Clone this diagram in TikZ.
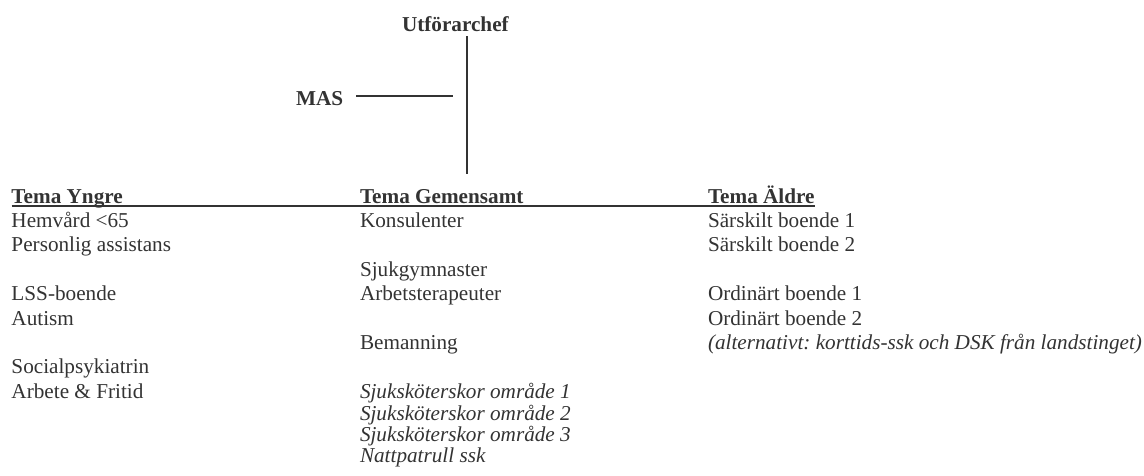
\documentclass[tikz,border=0pt]{standalone}
\usepackage{fontspec}
\setmainfont{Liberation Serif}
\definecolor{ink}{HTML}{333333}
\frenchspacing
\begin{document}
\begin{tikzpicture}[x=1pt,y=-1pt,
  txt/.style={anchor=base west,inner sep=0pt,outer sep=0pt,text=ink,font=\fontsize{21.2}{24.4}\selectfont},
  hd/.style={txt,font=\fontsize{21.2}{24.4}\selectfont\bfseries},
  itx/.style={txt,font=\fontsize{21.2}{24.4}\selectfont\itshape},
  ln/.style={draw=ink,line width=1.9pt}]
\useasboundingbox (0,0) rectangle (1144,475);

% top
\node[hd] (utf) at (402,31.7) {Utförarchef};
\node[hd] (mas) at (296,105) {MAS};
\coordinate (vtop) at (467,36);
\coordinate (vbot) at (467,174);
\coordinate (masend) at (453,96);
\draw[ln] (vtop) -- (vbot);
\draw[ln] ([xshift=13pt]mas.east |- masend) -- (masend);

% headers
\node[hd] (yngre) at (11.5,203) {Tema Yngre};
\node[hd] (gem) at (360,203) {Tema Gemensamt};
\node[hd] (aeldre) at (708,203) {Tema Äldre};
\draw[ln] ([yshift=-2.8pt]yngre.base west) -- ([yshift=-2.8pt]aeldre.base east);

% column 1
\node[txt] (y1) at (11.5,227.4) {Hemvård <65};
\node[txt] (y2) at (11.5,251.8) {Personlig assistans};
\node[txt] (y3) at (11.5,300.6) {LSS-boende};
\node[txt] (y4) at (11.5,325) {Autism};
\node[txt] (y5) at (11.5,373.8) {Socialpsykiatrin};
\node[txt] (y6) at (11.5,398.8) {Arbete \& Fritid};

% column 2
\node[txt] (g1) at (360,227.4) {Konsulenter};
\node[txt] (g2) at (360,276.2) {Sjukgymnaster};
\node[txt] (g3) at (360,300.6) {Arbetsterapeuter};
\node[txt] (g4) at (360,349.4) {Bemanning};
\node[itx] (g5) at (360,398.8) {Sjuksköterskor område 1};
\node[itx] (g6) at (360,420.1) {Sjuksköterskor område 2};
\node[itx] (g7) at (360,441.4) {Sjuksköterskor område 3};
\node[itx] (g8) at (360,462.7) {Nattpatrull ssk};

% column 3
\node[txt] (a1) at (708,227.4) {Särskilt boende 1};
\node[txt] (a2) at (708,251.8) {Särskilt boende 2};
\node[txt] (a3) at (708,300.6) {Ordinärt boende 1};
\node[txt] (a4) at (708,325) {Ordinärt boende 2};
\node[itx] (a5) at (708,349.4) {(alternativt: korttids-ssk och DSK från landstinget)};
\end{tikzpicture}
\end{document}
